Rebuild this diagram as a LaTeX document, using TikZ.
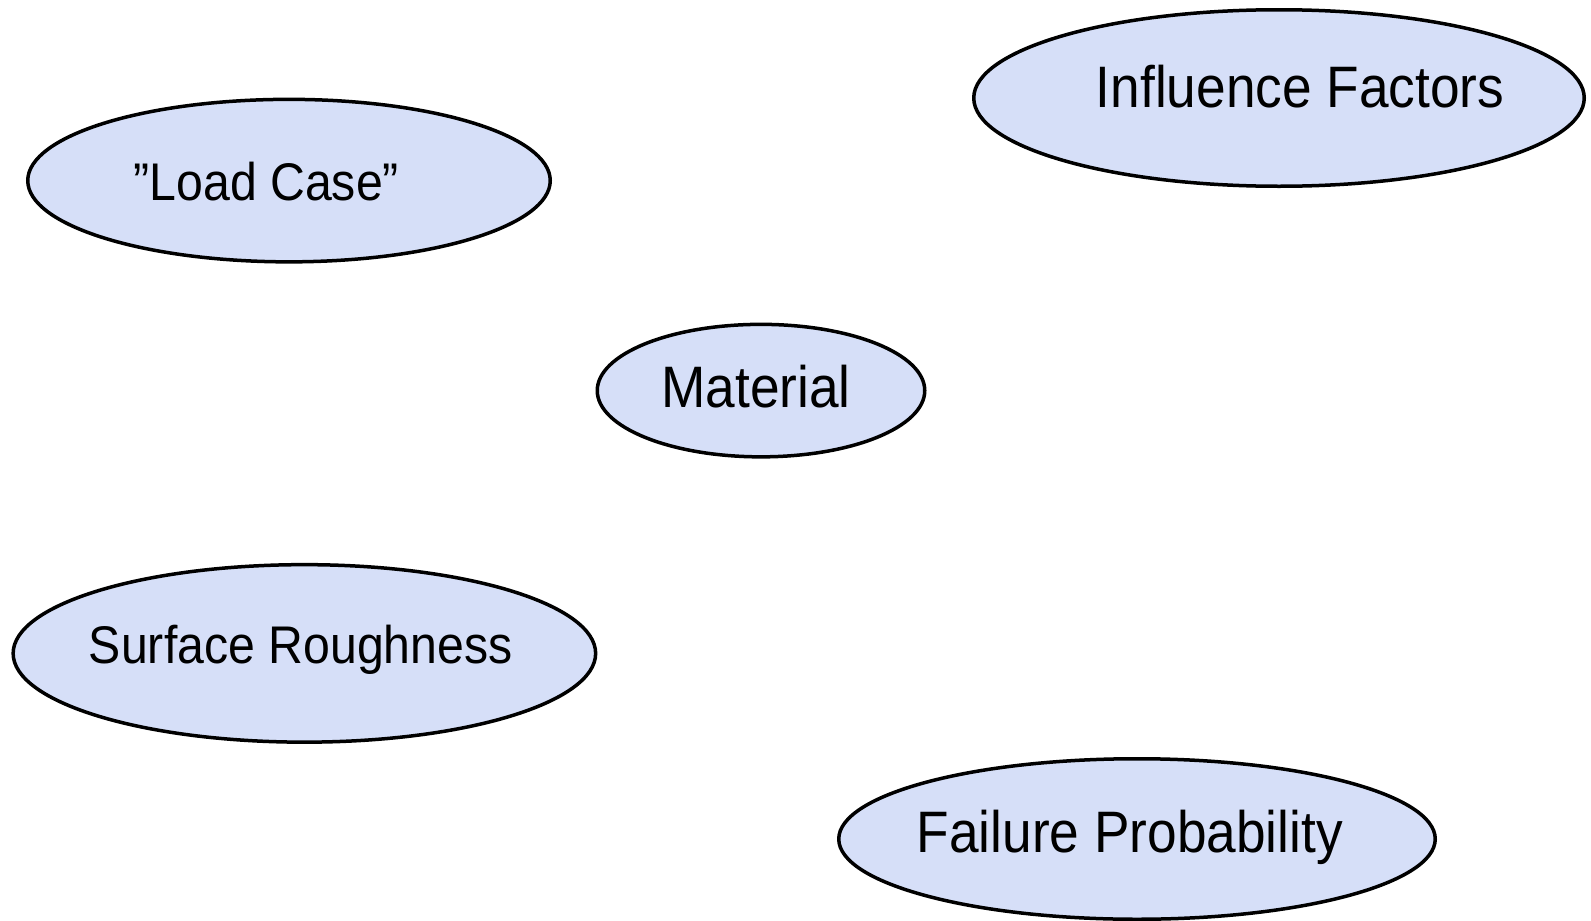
\documentclass[tikz,border=0pt]{standalone}
\usepackage{fontspec}
\setmainfont[FakeStretch=0.91]{Liberation Sans}
\usetikzlibrary{shapes.geometric}
\definecolor{ovalblue}{RGB}{214,223,248}
\tikzset{
  oval/.style={ellipse, draw=black, line width=3.5pt, fill=ovalblue, inner sep=0pt},
  bigtext/.style={anchor=base, inner sep=0pt, font=\fontsize{58.5}{70}\selectfont},
  smalltext/.style={anchor=base, inner sep=0pt, font=\fontsize{53}{64}\selectfont}
}
\begin{document}
\begin{tikzpicture}[x=1pt, y=-1pt]
\useasboundingbox (0,0) rectangle (1591,921);
		\node (IF) at (1279,98) [oval, minimum width=610.5pt, minimum height=176.5pt] {};
		\node (LC) at (289,180.6) [oval, minimum width=522.5pt, minimum height=162.5pt] {};
		\node (MAT) at (761,390.6) [oval, minimum width=327.5pt, minimum height=132.5pt] {};
		\node (SR) at (304.4,653.4) [oval, minimum width=582.5pt, minimum height=177.5pt] {};
		\node (FP) at (1137,839) [oval, minimum width=596.5pt, minimum height=160.5pt] {};
		\node (IFtxt) at (1300,107.6) [bigtext] {Influence Factors};
		\node (LCtxt) at (266.3,200.9) [smalltext] {”Load Case”};
		\node (MATtxt) at (756,407.9) [bigtext] {Material};
		\node (SRtxt) at (300.8,663.6) [smalltext] {Surface Roughness};
		\node (FPtxt) at (1129.8,852.3) [bigtext] {Failure Probability};
\end{tikzpicture}
\end{document}
